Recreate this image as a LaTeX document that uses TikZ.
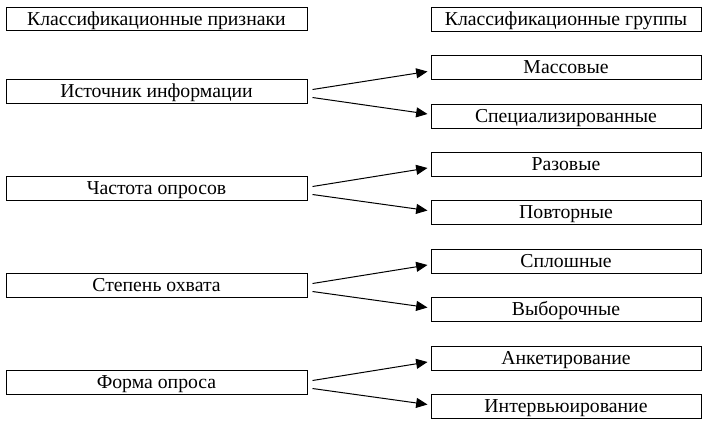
\documentclass[tikz,border=0pt]{standalone}
\usepackage{fontspec}
\setmainfont{Liberation Serif}
\usetikzlibrary{arrows.meta}

\tikzset{
    signbox/.style={draw, line width=0.75pt, minimum width=225.75pt, minimum height=17.5pt, inner sep=0pt, text height=10.5pt, text depth=1.5pt, font=\fontsize{14.8}{16}\selectfont},
    groupbox/.style={draw, line width=0.75pt, minimum width=202.5pt, minimum height=18pt, inner sep=0pt, text height=10.5pt, text depth=1.5pt, font=\fontsize{14.8}{16}\selectfont},
    arr/.style={line width=0.75pt, -{Triangle[length=8.5pt, width=7.5pt]}}
}

\begin{document}
\begin{tikzpicture}[x=0.75pt, y=-0.75pt]
    \useasboundingbox (0, 0) rectangle (709, 426);

    % Headers
    \node[signbox] (headL) at (156.5, 19) {Классификационные признаки};
    \node[groupbox] (headR) at (566, 19) {Классификационные группы};

    % Source of information
    \node[signbox] (src) at (156.5, 91.5) {Источник информации};
    \node[groupbox] (mass) at (566, 67.5) {Массовые};
    \node[groupbox] (spec) at (566, 116) {Специализированные};

    % Frequency of polls
    \node[signbox] (freq) at (156.5, 188.5) {Частота опросов};
    \node[groupbox] (once) at (566, 164) {Разовые};
    \node[groupbox] (rept) at (566, 212.5) {Повторные};

    % Coverage
    \node[signbox] (cover) at (156.5, 285.5) {Степень охвата};
    \node[groupbox] (full) at (566, 261) {Сплошные};
    \node[groupbox] (samp) at (566, 309.5) {Выборочные};

    % Form of poll
    \node[signbox] (form) at (156.5, 382.5) {Форма опроса};
    \node[groupbox] (quest) at (566, 358) {Анкетирование};
    \node[groupbox] (intv) at (566, 406.5) {Интервьюирование};

    % Arrows
    \draw[arr] ([shift={(5, -2)}]src.east) -- ([shift={(-3, 4)}]mass.west);
    \draw[arr] ([shift={(5, 6)}]src.east) -- ([shift={(-3, -2)}]spec.west);
    \draw[arr] ([shift={(5, -2)}]freq.east) -- ([shift={(-3, 4)}]once.west);
    \draw[arr] ([shift={(5, 6)}]freq.east) -- ([shift={(-3, -2)}]rept.west);
    \draw[arr] ([shift={(5, -2)}]cover.east) -- ([shift={(-3, 4)}]full.west);
    \draw[arr] ([shift={(5, 6)}]cover.east) -- ([shift={(-3, -2)}]samp.west);
    \draw[arr] ([shift={(5, -2)}]form.east) -- ([shift={(-3, 4)}]quest.west);
    \draw[arr] ([shift={(5, 6)}]form.east) -- ([shift={(-3, -2)}]intv.west);
\end{tikzpicture}
\end{document}
